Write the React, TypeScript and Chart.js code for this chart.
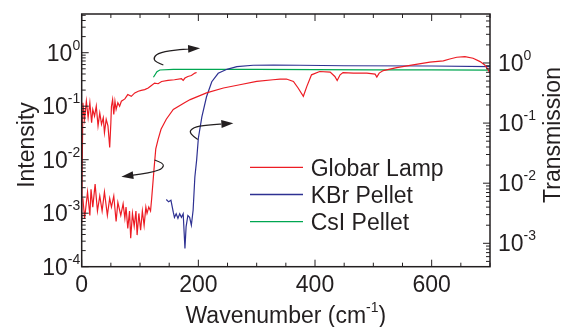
import { useEffect, useRef } from 'react';
import { Chart, registerables } from 'chart.js';

Chart.register(...registerables);

const FONT = '"Liberation Sans", Arial, Helvetica, sans-serif';
const INK = '#231f20';
const RED = '#ed1c24';
const BLUE = '#2e3192';
const GREEN = '#00a651';

// Globar lamp intensity (left axis)
const globarX = [2, 5, 10, 14, 16, 19, 23, 27, 31, 35, 39, 44, 48, 51, 55, 59, 62, 67, 71, 74, 76, 79, 82, 84, 87, 90, 93, 95, 98, 101, 104, 107, 110, 112, 115, 118, 120, 124, 127, 131, 136, 145, 157, 177, 186, 214, 243, 271, 300, 328, 340, 351, 363, 371, 380, 386, 394, 408, 426, 434, 438, 443, 448, 466, 489, 503, 506, 510, 517, 540, 568, 597, 620, 631, 643, 657, 671, 683, 691, 697, 700];
const globarY = [1.9e-3, 8.0e-4, 2.5e-3, 9.1e-4, 2.8e-3, 1.3e-3, 3.5e-3, 1.1e-3, 2.1e-3, 1.1e-3, 2.5e-3, 9.1e-4, 1.9e-3, 1.3e-3, 2.1e-3, 7.0e-4, 1.6e-3, 9.1e-4, 1.5e-3, 8.0e-4, 1.3e-3, 5.2e-4, 1.1e-3, 3.4e-4, 9.9e-4, 5.7e-4, 1.1e-3, 3.9e-4, 9.9e-4, 4.8e-4, 1.1e-3, 5.9e-4, 1.3e-3, 9.9e-4, 1.3e-3, 1.1e-3, 1.9e-3, 6.7e-3, 1.6e-2, 2.4e-2, 3.7e-2, 5.7e-2, 8.7e-2, 0.117, 0.133, 0.177, 0.219, 0.252, 0.290, 0.312, 0.322, 0.322, 0.290, 0.219, 0.153, 0.235, 0.386, 0.445, 0.434, 0.360, 0.303, 0.386, 0.426, 0.416, 0.416, 0.398, 0.350, 0.416, 0.464, 0.527, 0.592, 0.664, 0.702, 0.764, 0.822, 0.843, 0.787, 0.681, 0.592, 0.478, 0.42];

// Globar lamp, low-wavenumber trace (upper red curve)
const globarLowX = [0, 2, 5, 8, 11, 14, 17, 19, 22, 25, 28, 31, 34, 37, 39, 42, 45, 48, 50, 51, 53, 55, 57, 59, 62, 65, 68, 74, 79, 85, 91, 97, 102, 108, 114, 119, 125, 131, 137, 148, 159, 171, 174, 177, 182, 188, 194, 197];
const globarLowY = [6.5e-4, 0.116, 0.057, 0.124, 0.061, 0.116, 0.049, 0.087, 0.065, 0.100, 0.043, 0.075, 0.046, 0.061, 0.032, 0.057, 0.043, 0.017, 0.049, 0.100, 0.133, 0.070, 0.124, 0.087, 0.116, 0.100, 0.124, 0.137, 0.165, 0.153, 0.177, 0.190, 0.198, 0.204, 0.219, 0.242, 0.271, 0.263, 0.290, 0.303, 0.312, 0.326, 0.303, 0.336, 0.360, 0.375, 0.416, 0.426];

// KBr pellet transmission (right axis)
const kbrX = [145, 149, 153, 157, 159, 162, 165, 168, 171, 174, 177, 179, 182, 185, 188, 191, 194, 197, 200, 206, 214, 223, 234, 249, 266, 294, 329, 374, 450, 600, 700];
const kbrY = [5.35e-3, 4.9e-3, 5.2e-3, 3.3e-3, 2.7e-3, 3.1e-3, 2.6e-3, 3.1e-3, 2.7e-3, 3.1e-3, 8.2e-4, 1.9e-3, 2.9e-3, 2.7e-3, 2.0e-3, 3.55e-3, 1.27e-2, 2.4e-2, 5.6e-2, 0.127, 0.274, 0.488, 0.673, 0.785, 0.868, 0.916, 0.926, 0.916, 0.90, 0.89, 0.87];

// CsI pellet transmission (right axis)
const csiX = [123, 129, 134, 157, 200, 300, 400, 500, 600, 700];
const csiY = [0.578, 0.716, 0.764, 0.785, 0.785, 0.78, 0.775, 0.77, 0.765, 0.76];

const legendLabels = ['Globar Lamp', 'KBr Pellet', 'CsI Pellet'];
const legendColors = [RED, BLUE, GREEN];

const xTickValues = [0, 200, 400, 600];
const xTickLabels = ['0', '200', '400', '600'];
const leftDecades = [-4, -3, -2, -1, 0];
const rightDecades = [-3, -2, -1, 0];

// annotation arrows (x in cm^-1, y on the intensity axis)
const arrow1X = [140, 126, 123, 134, 168, 203];
const arrow1Y = [0.589, 0.670, 0.831, 1.017, 1.158, 1.21];
const arrow2X = [199, 183, 191, 214, 260];
const arrow2Y = [0.0239, 0.0311, 0.0403, 0.0445, 0.0479];
const arrow3X = [125, 141, 139, 125, 102, 68];
const arrow3Y = [9.87e-3, 8.57e-3, 6.9e-3, 5.97e-3, 5.4e-3, 4.81e-3];

const zip = (xs: number[], ys: number[]) => xs.map((x, i) => ({ x, y: ys[i] }));

function drawPow(ctx: CanvasRenderingContext2D, exp: string, x: number, y: number, align: 'left' | 'right') {
  ctx.font = `23px ${FONT}`;
  const wb = ctx.measureText('10').width;
  ctx.font = `14px ${FONT}`;
  const ws = ctx.measureText(exp).width;
  const start = align === 'right' ? x - wb - ws : x;
  ctx.textAlign = 'left';
  ctx.textBaseline = 'alphabetic';
  ctx.font = `23px ${FONT}`;
  ctx.fillText('10', start, y + 8.2);
  ctx.font = `14px ${FONT}`;
  ctx.fillText(exp, start + wb, y - 3);
}

const decorPlugin = {
  id: 'decor',
  afterDatasetsDraw(chart: any) {
    const ctx: CanvasRenderingContext2D = chart.ctx;
    const { left, right, top, bottom } = chart.chartArea;
    const sx = chart.scales.x;
    const yl = chart.scales.yL;
    const yr = chart.scales.yR;
    ctx.save();
    ctx.strokeStyle = INK;
    ctx.fillStyle = INK;

    // frame
    ctx.lineWidth = 1.5;
    ctx.strokeRect(left, top, right - left, bottom - top);

    // x ticks (bottom and top, inward)
    ctx.lineWidth = 1;
    for (let v = 0; v <= 700; v += 50) {
      const px = sx.getPixelForValue(v);
      const len = v % 200 === 0 ? 7 : 4;
      ctx.beginPath();
      ctx.moveTo(px, bottom); ctx.lineTo(px, bottom - len);
      ctx.moveTo(px, top); ctx.lineTo(px, top + len);
      ctx.stroke();
    }
    // log ticks
    const logTicks = (scale: any, x0: number, dir: number) => {
      for (let n = -5; n <= 1; n++) {
        for (let k = 1; k <= 9; k++) {
          const v = k * Math.pow(10, n);
          if (v < scale.min * 0.999 || v > scale.max) continue;
          const py = scale.getPixelForValue(v);
          const len = k === 1 ? 7 : 4;
          ctx.beginPath();
          ctx.moveTo(x0, py); ctx.lineTo(x0 + dir * len, py);
          ctx.stroke();
        }
      }
    };
    logTicks(yl, left, 1);
    logTicks(yr, right, -1);

    // tick labels
    ctx.font = `23px ${FONT}`;
    ctx.textAlign = 'center';
    ctx.textBaseline = 'alphabetic';
    xTickValues.forEach((v, i) => {
      ctx.fillText(xTickLabels[i], sx.getPixelForValue(v), 292);
    });
    leftDecades.forEach((n) => drawPow(ctx, String(n), left - 1.5, yl.getPixelForValue(Math.pow(10, n)), 'right'));
    rightDecades.forEach((n) => drawPow(ctx, String(n), right + 8, yr.getPixelForValue(Math.pow(10, n)), 'left'));

    // x title
    ctx.font = `23px ${FONT}`;
    const t1 = 'Wavenumber (cm';
    const t3 = ')';
    const w1 = ctx.measureText(t1).width;
    const w3 = ctx.measureText(t3).width;
    ctx.font = `14px ${FONT}`;
    const w2 = ctx.measureText('-1').width;
    const cx = (left + right) / 2;
    let xs = cx - (w1 + w2 + w3) / 2;
    ctx.textAlign = 'left';
    ctx.font = `23px ${FONT}`;
    ctx.fillText(t1, xs, 323);
    ctx.font = `14px ${FONT}`;
    ctx.fillText('-1', xs + w1, 312);
    ctx.font = `23px ${FONT}`;
    ctx.fillText(t3, xs + w1 + w2, 323);

    // y titles
    ctx.textAlign = 'center';
    ctx.save();
    ctx.translate(34, 145);
    ctx.rotate(-Math.PI / 2);
    ctx.fillText('Intensity', 0, 0);
    ctx.restore();
    ctx.save();
    ctx.translate(560, 135);
    ctx.rotate(-Math.PI / 2);
    ctx.fillText('Transmission', 0, 0);
    ctx.restore();

    // legend
    const ly0 = 167.3;
    const lstep = 27.2;
    legendLabels.forEach((lab, i) => {
      const y = ly0 + i * lstep;
      ctx.strokeStyle = legendColors[i];
      ctx.lineWidth = 1.3;
      ctx.beginPath();
      ctx.moveTo(250, y); ctx.lineTo(303, y);
      ctx.stroke();
      ctx.fillStyle = INK;
      ctx.textAlign = 'left';
      ctx.font = `23px ${FONT}`;
      ctx.fillText(lab, 310.7, y + 8.2);
    });

    // arrows
    const drawArrow = (xsArr: number[], ysArr: number[]) => {
      const pts = xsArr.map((x, i) => [sx.getPixelForValue(x), yl.getPixelForValue(ysArr[i])]);
      ctx.strokeStyle = INK;
      ctx.fillStyle = INK;
      ctx.lineWidth = 1.2;
      ctx.beginPath();
      ctx.moveTo(pts[0][0], pts[0][1]);
      for (let i = 1; i < pts.length - 1; i++) {
        const mx = (pts[i][0] + pts[i + 1][0]) / 2;
        const my = (pts[i][1] + pts[i + 1][1]) / 2;
        ctx.quadraticCurveTo(pts[i][0], pts[i][1], mx, my);
      }
      const last = pts[pts.length - 1];
      const prev = pts[pts.length - 2];
      const ang = Math.atan2(last[1] - prev[1], last[0] - prev[0]);
      const hl = 12;
      const hw = 4;
      const bx = last[0] - hl * Math.cos(ang);
      const by = last[1] - hl * Math.sin(ang);
      ctx.lineTo(bx, by);
      ctx.stroke();
      ctx.beginPath();
      ctx.moveTo(last[0], last[1]);
      ctx.lineTo(bx + hw * Math.sin(ang), by - hw * Math.cos(ang));
      ctx.lineTo(bx - hw * Math.sin(ang), by + hw * Math.cos(ang));
      ctx.closePath();
      ctx.fill();
    };
    drawArrow(arrow1X, arrow1Y);
    drawArrow(arrow2X, arrow2Y);
    drawArrow(arrow3X, arrow3Y);

    ctx.restore();
  },
};

export default function App() {
  const ref = useRef<HTMLCanvasElement>(null);
  useEffect(() => {
    document.body.style.margin = '0';
    const canvas = ref.current;
    if (!canvas) return;
    const chart = new Chart(canvas, {
      type: 'line',
      data: {
        datasets: [
          { label: 'Globar Lamp', data: zip(globarX, globarY), borderColor: RED, yAxisID: 'yL' },
          { label: 'Globar Lamp (low range)', data: zip(globarLowX, globarLowY), borderColor: RED, yAxisID: 'yL' },
          { label: 'KBr Pellet', data: zip(kbrX, kbrY), borderColor: BLUE, yAxisID: 'yR' },
          { label: 'CsI Pellet', data: zip(csiX, csiY), borderColor: GREEN, yAxisID: 'yR' },
        ],
      },
      options: {
        animation: false,
        responsive: false,
        devicePixelRatio: 1,
        layout: { padding: { left: 81.7, right: 74, top: 14, bottom: 60.3 } },
        elements: {
          point: { radius: 0 },
          line: { borderWidth: 1.2, tension: 0, fill: false },
        },
        plugins: { legend: { display: false }, tooltip: { enabled: false } },
        scales: {
          x: { type: 'linear', min: 0, max: 700, display: false },
          yL: { type: 'logarithmic', position: 'left', min: 1e-4, max: 5.29, display: false },
          yR: { type: 'logarithmic', position: 'right', min: 4.08e-4, max: 6.53, display: false },
        },
      },
      plugins: [decorPlugin],
    });
    return () => chart.destroy();
  }, []);
  return (
    <div style={{ position: 'absolute', left: 0, top: 0, width: 564, height: 327, background: '#fff' }}>
      <canvas ref={ref} width={564} height={327} style={{ display: 'block', width: 564, height: 327 }} />
    </div>
  );
}
